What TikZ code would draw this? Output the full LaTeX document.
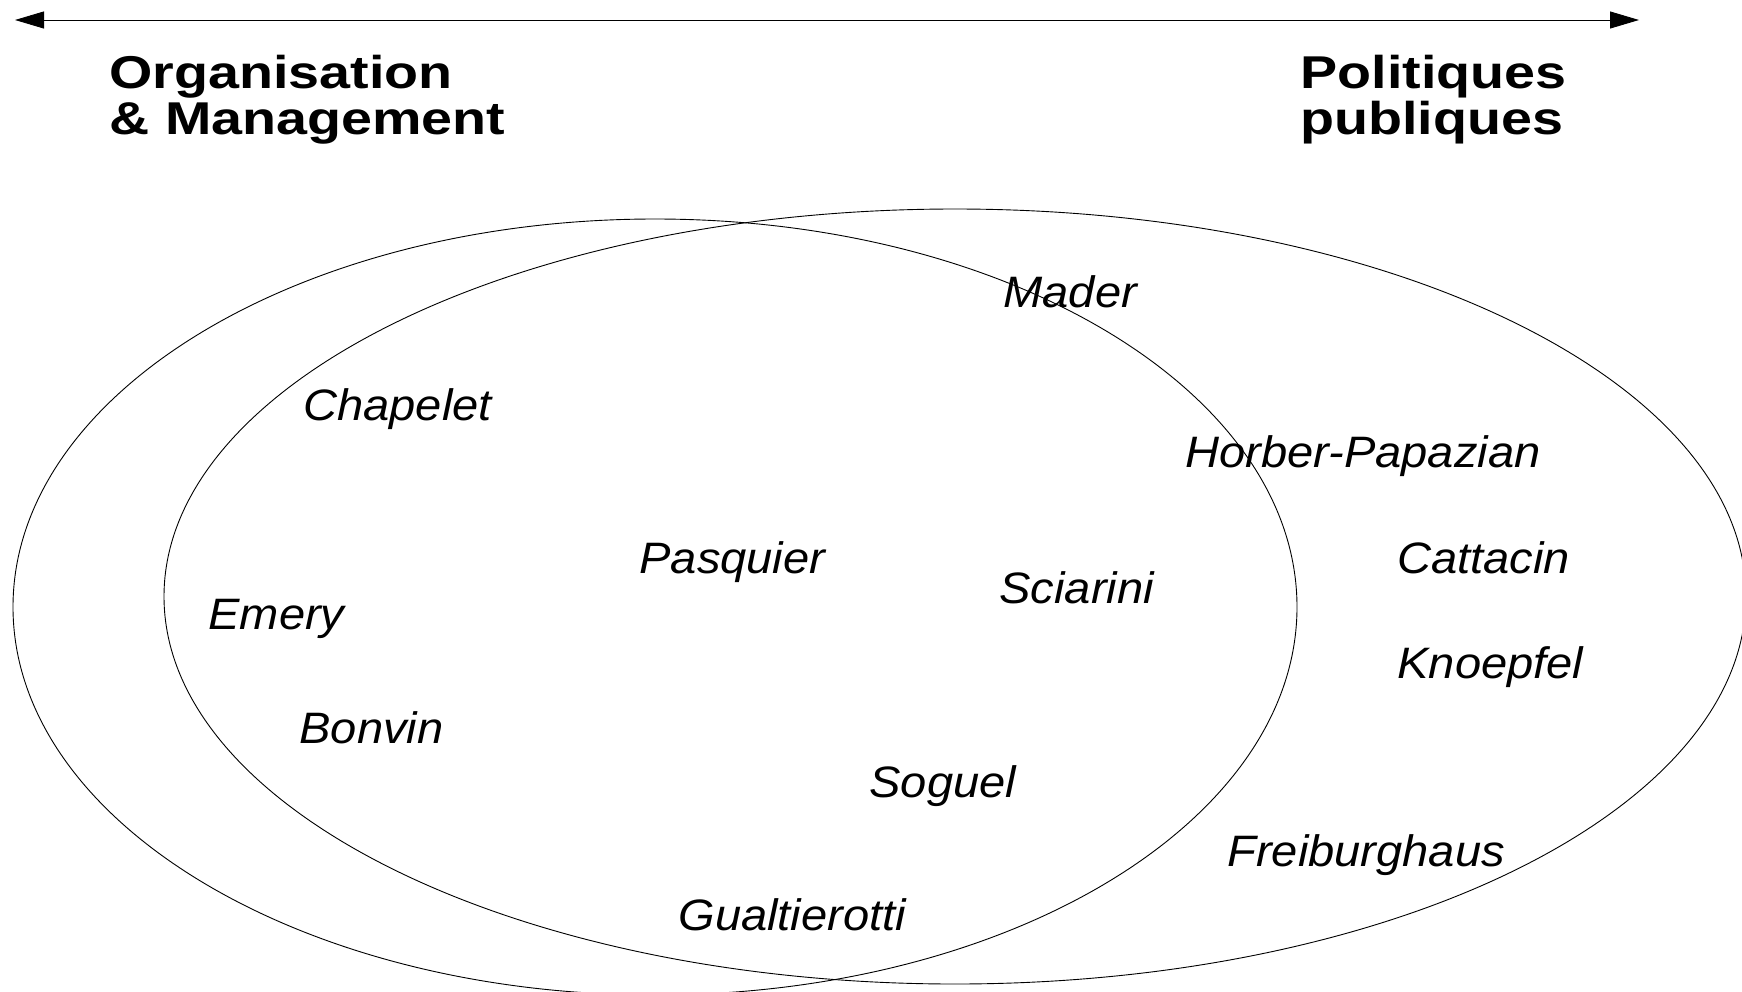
\documentclass[tikz,border=0pt]{standalone}
\usepackage{fontspec}
\setmainfont{Liberation Sans}
\newfontfamily\nomfont[FakeStretch=1.07]{Liberation Sans}
\newfontfamily\titrefont[FakeStretch=1.21]{Liberation Sans}
\usetikzlibrary{arrows.meta}

\begin{document}
\begin{tikzpicture}[x=1pt, y=-1pt, line width=0.9pt,
    nom/.style={anchor=base west, inner sep=0pt,
      font=\nomfont\itshape\fontsize{44}{50}\selectfont},
    pole/.style={anchor=base west, inner sep=0pt, align=left,
      font=\titrefont\bfseries\fontsize{46}{46}\selectfont}]
  \useasboundingbox (0, 0) rectangle (1742, 991);
  \clip (0, 0) rectangle (1742, 991);
          \coordinate (gauche) at (15, 20);
          \coordinate (droite) at (1639, 20);
          \draw [{Triangle[length=29pt, width=17pt]}-{Triangle[length=29pt, width=17pt]}]
            (gauche) -- (droite);
          \node [pole] (om) at (109, 134) {Organisation\\\& Management};
          \node [pole] (pp) at (1300, 134) {Politiques\\publiques};
          \draw (655, 607) ellipse [x radius=642, y radius=388];
          \draw (955, 596.5) ellipse [x radius=791, y radius=387.5];
          \foreach \X/\Y/\N [count=\i] in {1003/307/Mader, 303/420/Chapelet,
              1185/467/Horber-Papazian, 639/573/Pasquier, 999/603/Sciarini,
              1397/573/Cattacin, 208/629/Emery, 1397/678/Knoepfel,
              299/743/Bonvin, 869/797/Soguel, 1227/866/Freiburghaus,
              678/930/Gualtierotti} {
            \node [nom] (nom\i) at (\X, \Y) {\N};
          }
        \end{tikzpicture}
\end{document}
